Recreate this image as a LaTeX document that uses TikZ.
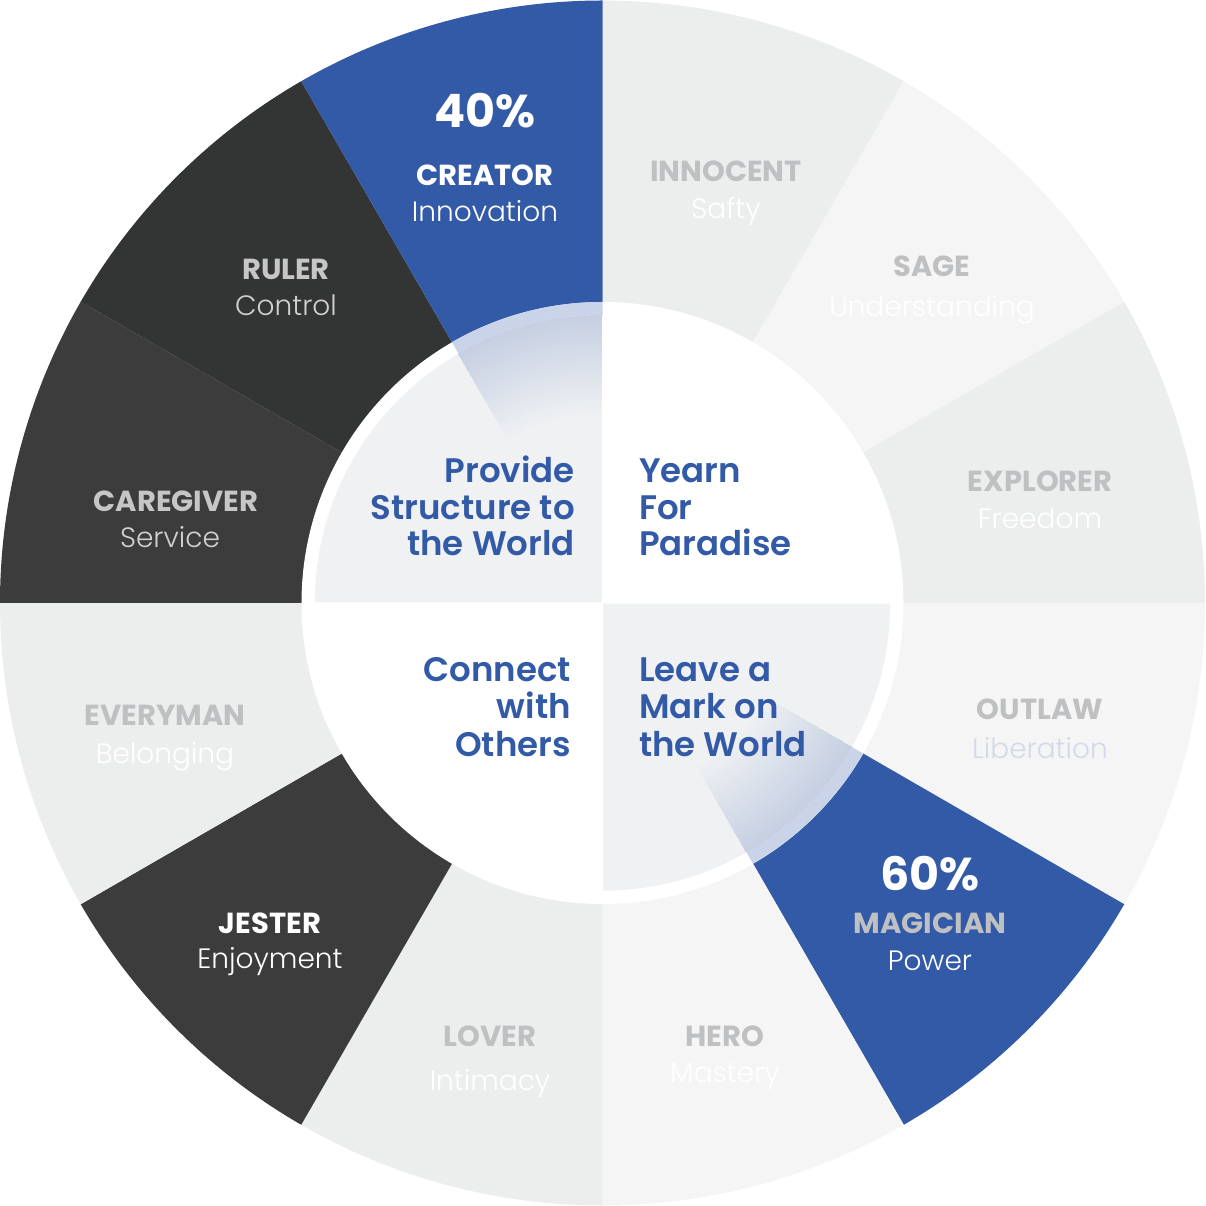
\documentclass[tikz,border=0pt]{standalone}
\usepackage{fontspec}
\setmainfont{Poppins}
\newfontfamily\plight{Poppins Light}
\newfontfamily\psemi{Poppins SemiBold}
\definecolor{cblue}{HTML}{335AA6}
\definecolor{cdarkA}{HTML}{333434}
\definecolor{cdarkB}{HTML}{3C3C3C}
\definecolor{clightA}{HTML}{ECEDED}
\definecolor{clightB}{HTML}{F5F5F5}
\definecolor{cinner}{HTML}{EFF1F3}
\definecolor{ctitle}{HTML}{BFC0C2}
\definecolor{ctitledk}{HTML}{C6C6C6}
\definecolor{csubdk}{HTML}{D0D0D0}
\definecolor{clib}{HTML}{D3D9E6}
\tikzset{
  ttl/.style={font=\bfseries\fontsize{29}{29}\selectfont, anchor=base, text=ctitle, inner sep=0pt},
  sub/.style={font=\plight\fontsize{28}{28}\selectfont, anchor=base, text=white, inner sep=0pt},
  pct/.style={font=\bfseries\fontsize{46}{46}\selectfont, anchor=base, text=white, inner sep=0pt},
  inr/.style={font=\psemi\fontsize{34}{37}\selectfont, text=cblue, inner sep=0pt},
  innerR/.style={inr, anchor=base east},
  innerL/.style={inr, anchor=base west},
}
\begin{document}
\begin{tikzpicture}[x=1pt,y=1pt]
\path[use as bounding box] (-602.5,-603) rectangle (602.5,603);
% outer sectors
\foreach \a/\c in {60/clightA, 30/clightB, 0/clightA, -30/clightB, -60/cblue, -90/clightB, -120/clightA, -150/cdarkB, 180/clightA, 150/cdarkB, 120/cdarkA, 90/cblue}
  \fill[\c] (0,0) -- (\a:602.5) arc[start angle=\a, end angle=\a+30, radius=602.5] -- cycle;
% white ring
\fill[white] (0,0) circle (301);
% tinted ring parts
\foreach \a in {90,-60}
  \fill[cblue!26!white] (\a:301) arc[start angle=\a, end angle=\a+30, radius=301]
     -- (\a+30:287) arc[start angle=\a+30, end angle=\a, radius=287] -- cycle;
% inner quadrants
\fill[cinner] (-0.6,0.6) -- ++(0,287) arc[start angle=90, end angle=180, radius=287] -- cycle;
\fill[cinner] (0.6,-0.6) -- ++(0,-287) arc[start angle=270, end angle=360, radius=287] -- cycle;
% gradients (opaque nested bands)
\foreach \a/\sx/\sy in {90/-0.6/0.6,-60/0.6/-0.6}{
  \begin{scope}
    \clip (\sx,\sy) circle (286.6);
    \clip (\sx,\sy) -- ++(\a:300) arc[start angle=\a, end angle=\a+30, radius=300] -- cycle;
    \foreach \k in {0,...,49}{
      \pgfmathsetmacro\r{188+\k*2}
      \pgfmathsetmacro\m{22*(\k+0.5)/50}
      \fill[cblue!\m!cinner] (\a:\r) arc[start angle=\a, end angle=\a+30, radius=\r]
        -- (\a+30:300) arc[start angle=\a+30, end angle=\a, radius=300] -- cycle;
    }
  \end{scope}
}
% inner texts
\node[innerR] (p1) at (-27.5,120) {Provide};
\node[innerR] (p2) at (-27.5,83) {Structure to};
\node[innerR] (p3) at (-27.5,47) {the World};
\node[innerL] (y1) at (36.5,120) {Yearn};
\node[innerL] (y2) at (36.5,83) {For};
\node[innerL] (y3) at (36.5,47) {Paradise};
\node[innerR] (c1) at (-31.5,-79) {Connect};
\node[innerR] (c2) at (-31.5,-116) {with};
\node[innerR] (c3) at (-31.5,-153) {Others};
\node[innerL] (l1) at (36.5,-79) {Leave a};
\node[innerL] (l2) at (36.5,-116) {Mark on};
\node[innerL] (l3) at (36.5,-153) {the World};
% outer labels
\node[pct] (crp) at (-117.5,475) {40\%};
\node[ttl,text=white] (crt) at (-117.5,417) {CREATOR};
\node[sub] (crs) at (-117.5,381) {Innovation};
\node[ttl,text=ctitledk] (rut) at (-316.5,323) {RULER};
\node[sub,text=csubdk] (rus) at (-316.5,287) {Control};
\node[ttl,text=ctitledk] (cgt) at (-426.5,91) {CAREGIVER};
\node[sub,text=csubdk] (cgs) at (-432.5,55) {Service};
\node[ttl] (evt) at (-437.5,-123) {EVERYMAN};
\node[sub] (evs) at (-437.5,-160) {Belonging};
\node[ttl,text=white] (jet) at (-332.5,-330) {JESTER};
\node[sub] (jes) at (-332.5,-365) {Enjoyment};
\node[ttl] (lot) at (-112.5,-443) {LOVER};
\node[sub] (los) at (-112.5,-487) {Intimacy};
\node[ttl] (het) at (122.5,-443) {HERO};
\node[sub] (hes) at (122.5,-479) {Mastery};
\node[pct] (map) at (327.5,-287) {60\%};
\node[ttl] (mat) at (327.5,-330) {MAGICIAN};
\node[sub] (mas) at (327.5,-367) {Power};
\node[ttl] (out) at (437.5,-117) {OUTLAW};
\node[sub,text=clib] (ous) at (437.5,-155) {Liberation};
\node[ttl] (ext) at (437.5,111) {EXPLORER};
\node[sub] (exs) at (437.5,74) {Freedom};
\node[ttl] (sat) at (329.5,326) {SAGE};
\node[sub] (sas) at (329.5,286) {Understanding};
\node[ttl] (int) at (123.5,421) {INNOCENT};
\node[sub] (ins) at (123.5,384) {Safty};
\end{tikzpicture}
\end{document}
